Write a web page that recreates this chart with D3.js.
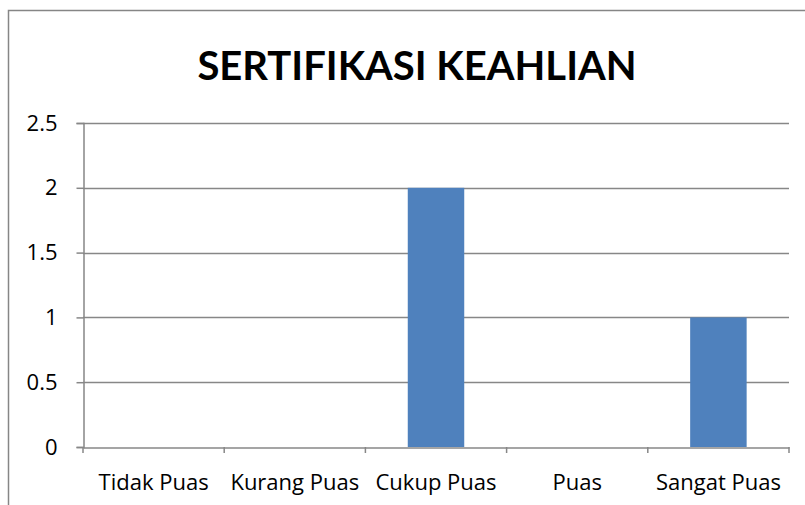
<!DOCTYPE html>
<html>
<head>
<meta charset="utf-8">
<script src="https://cdn.jsdelivr.net/npm/d3@7"></script>
<style>
  body { margin: 0; background: #fff; }
  text { font-family: "Open Sans", sans-serif; fill: #000; }
</style>
</head>
<body>
<script>
var categories = ["Tidak Puas", "Kurang Puas", "Cukup Puas", "Puas", "Sangat Puas"];
var values = [0, 0, 2, 0, 1];
var yTicks = [0, 0.5, 1, 1.5, 2, 2.5];
var title = "SERTIFIKASI KEAHLIAN";

var width = 805, height = 505;
var svg = d3.select("body").append("svg")
    .attr("width", width)
    .attr("height", height);

svg.append("rect")
    .attr("x", 8.5).attr("y", 10.5)
    .attr("width", 830).attr("height", 520)
    .attr("fill", "#fff")
    .attr("stroke", "#868686")
    .attr("stroke-width", 1.5);

var plotLeft = 83, plotRight = 789, plotTop = 123, plotBottom = 447;

var x = d3.scaleBand().domain(categories).range([plotLeft, plotRight]).paddingInner(0.6).paddingOuter(0.3);
var xb = d3.scaleBand().domain(categories).range([plotLeft, plotRight]);
var y = d3.scaleLinear().domain([0, 2.5]).range([plotBottom, plotTop]);

// gridlines
svg.append("g").selectAll("line")
    .data(yTicks.filter(function (d) { return d > 0; }))
    .enter().append("line")
    .attr("x1", plotLeft).attr("x2", plotRight)
    .attr("y1", function (d) { return Math.round(y(d)) + 0.5; })
    .attr("y2", function (d) { return Math.round(y(d)) + 0.5; })
    .attr("stroke", "#878787")
    .attr("stroke-width", 1.5);

// bars
svg.append("g").selectAll("rect")
    .data(values)
    .enter().append("rect")
    .attr("x", function (d, i) { return x(categories[i]); })
    .attr("width", x.bandwidth())
    .attr("y", function (d) { return y(d); })
    .attr("height", function (d) { return plotBottom - y(d); })
    .attr("fill", "#4F81BD");

// y axis
var yAxis = svg.append("g")
    .attr("transform", "translate(" + (plotLeft + 0.5) + ",0)")
    .call(d3.axisLeft(y).tickValues(yTicks).tickSize(7).tickPadding(19)
        .tickFormat(function (d) { return d; }));
yAxis.select(".domain").attr("stroke", "#878787").attr("stroke-width", 1.5);
yAxis.selectAll(".tick line").attr("stroke", "#878787").attr("stroke-width", 1.5);
yAxis.selectAll(".tick text").style("font-size", "22px").style("font-family", "'Open Sans', sans-serif");

// x axis
var xAxis = svg.append("g")
    .attr("transform", "translate(0," + (plotBottom + 0.5) + ")")
    .call(d3.axisBottom(xb).tickSize(0).tickPadding(27));
xAxis.select(".domain").attr("stroke", "#878787").attr("stroke-width", 1.5);
xAxis.selectAll(".tick text").style("font-size", "22px").style("font-family", "'Open Sans', sans-serif");

// category boundary ticks
svg.append("g").selectAll("line")
    .data(d3.range(categories.length + 1))
    .enter().append("line")
    .attr("x1", function (i) { return plotLeft + i * xb.step(); })
    .attr("x2", function (i) { return plotLeft + i * xb.step(); })
    .attr("y1", plotBottom).attr("y2", plotBottom + 6)
    .attr("stroke", "#878787")
    .attr("stroke-width", 1.5);

// title
svg.append("text")
    .attr("x", 417).attr("y", 80)
    .attr("text-anchor", "middle")
    .style("font-size", "40px")
    .style("font-weight", "bold")
    .style("font-family", "Lato, sans-serif")
    .text(title);
</script>
</body>
</html>
